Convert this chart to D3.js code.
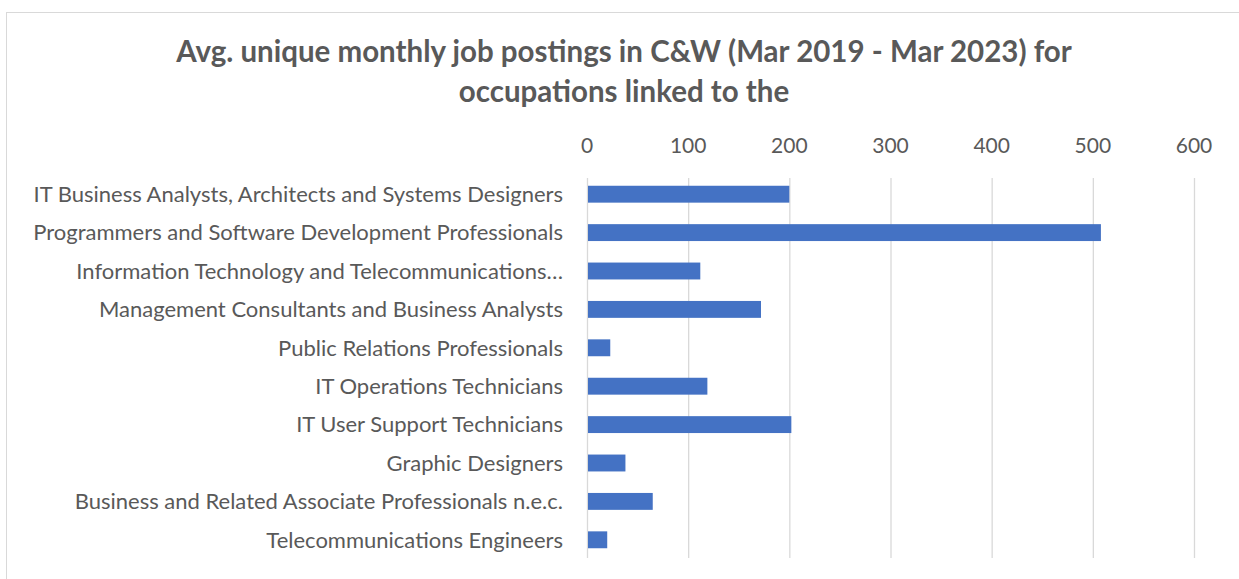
<!DOCTYPE html>
<html>
<head>
<meta charset="utf-8">
<script src="https://cdn.jsdelivr.net/npm/d3@7"></script>
<style>
  body { margin: 0; background: #fff; }
  text { font-family: Lato, "Open Sans", sans-serif; fill: #595959; }
</style>
</head>
<body>
<script>
var width = 1239,
    height = 579;

var titleLines = ["Avg. unique monthly job postings in C&W (Mar 2019 - Mar 2023) for",
                  "occupations linked to the"];

var occupations = [
  "IT Business Analysts, Architects and Systems Designers",
  "Programmers and Software Development Professionals",
  "Information Technology and Telecommunications\u2026",
  "Management Consultants and Business Analysts",
  "Public Relations Professionals",
  "IT Operations Technicians",
  "IT User Support Technicians",
  "Graphic Designers",
  "Business and Related Associate Professionals n.e.c.",
  "Telecommunications Engineers"
];

var postings = [199, 507, 111, 171, 22, 118, 201, 37, 64, 19];

var xTicks = [0, 100, 200, 300, 400, 500, 600];

var svg = d3.select("body").append("svg")
    .attr("width", width)
    .attr("height", height);

// chart frame
svg.append("rect")
  .attr("x", 6.5).attr("y", 12.5)
  .attr("width", 1300).attr("height", 700)
  .attr("fill", "none")
  .attr("stroke", "#d9d9d9");

// title
svg.selectAll("text.title")
  .data(titleLines)
  .enter().append("text")
  .attr("class", "title")
  .attr("x", 624)
  .attr("y", function(d, i) { return 62 + i * 40; })
  .attr("text-anchor", "middle")
  .attr("font-size", 29.5)
  .attr("font-weight", "bold")
  .text(function(d) { return d; });

var x = d3.scaleLinear().domain([0, 600]).range([587, 1194]);
var y = d3.scaleBand().domain(occupations).range([175, 559]).paddingInner(0.56).paddingOuter(0.28);

// gridlines
svg.append("g")
  .selectAll("line")
  .data(xTicks)
  .enter().append("line")
  .attr("x1", function(d) { return x(d) + 0.5; })
  .attr("x2", function(d) { return x(d) + 0.5; })
  .attr("y1", 178)
  .attr("y2", 558)
  .attr("stroke", "#d9d9d9")
  .attr("stroke-width", 1.3);

// top axis labels
svg.append("g")
  .selectAll("text")
  .data(xTicks)
  .enter().append("text")
  .attr("x", function(d) { return x(d); })
  .attr("y", 153)
  .attr("text-anchor", "middle")
  .attr("font-size", 21)
  .text(function(d) { return d; });

// bars
svg.append("g")
  .selectAll("rect")
  .data(postings)
  .enter().append("rect")
  .attr("x", x(0) + 1)
  .attr("y", function(d, i) { return y(occupations[i]); })
  .attr("width", function(d) { return x(d) - x(0); })
  .attr("height", y.bandwidth())
  .attr("fill", "#4472c4");

// category labels
svg.append("g")
  .selectAll("text")
  .data(occupations)
  .enter().append("text")
  .attr("x", 563)
  .attr("y", function(d) { return y(d) + y.bandwidth() / 2; })
  .attr("dy", "0.35em")
  .attr("text-anchor", "end")
  .attr("font-size", 22)
  .text(function(d) { return d; });
</script>
</body>
</html>
